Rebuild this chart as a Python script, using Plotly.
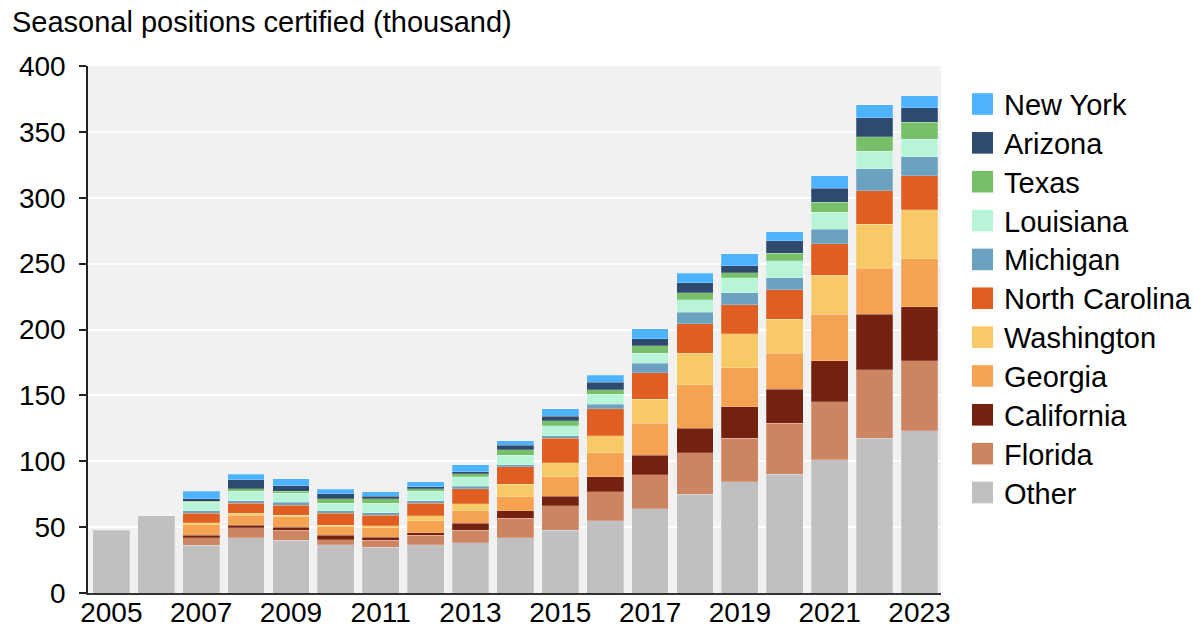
import plotly.graph_objects as go

years = list(range(2005, 2024))

other      = [47.8, 58.7, 36.4, 42.0, 40.2, 36.7, 34.7, 36.7, 38.2, 42.0, 47.6, 54.9, 64.0, 74.9, 84.3, 90.1, 101.0, 117.5, 123.0]
florida    = [None, None, 5.4, 7.4, 7.4, 3.8, 5.5, 7.1, 9.6, 14.7, 18.5, 22.0, 25.8, 31.6, 33.2, 38.8, 44.3, 51.8, 53.4]
california = [None, None, 2.0, 2.0, 2.2, 3.3, 2.1, 2.0, 5.1, 5.6, 7.3, 11.2, 14.8, 18.6, 24.0, 25.8, 31.1, 42.3, 40.8]
georgia    = [None, None, 8.1, 7.6, 8.1, 6.5, 7.3, 9.1, 9.4, 10.8, 14.7, 18.4, 24.3, 32.8, 29.6, 27.3, 35.2, 34.9, 36.4]
washington = [None, None, 1.3, 1.5, 1.2, 1.1, 1.5, 3.6, 5.3, 9.4, 10.8, 12.9, 18.2, 24.1, 25.6, 25.8, 29.6, 33.4, 37.2]
n_carolina = [None, None, 7.5, 7.6, 7.6, 9.1, 7.9, 9.6, 11.6, 13.4, 18.6, 20.3, 20.2, 22.3, 22.0, 22.3, 23.8, 25.6, 25.8]
michigan   = [None, None, 1.6, 1.8, 2.0, 1.8, 2.0, 1.8, 2.0, 1.5, 1.7, 3.6, 7.1, 8.8, 9.3, 9.3, 11.2, 16.7, 14.7]
louisiana  = [None, None, 6.6, 7.3, 7.1, 5.8, 7.1, 7.5, 7.1, 7.1, 7.6, 7.6, 7.6, 9.4, 11.2, 12.7, 12.9, 13.2, 13.2]
texas      = [None, None, 0.7, 1.8, 1.5, 3.5, 3.3, 1.8, 2.1, 4.1, 3.8, 3.5, 5.5, 5.5, 4.0, 5.8, 7.3, 10.8, 12.9]
arizona    = [None, None, 2.0, 7.0, 4.0, 3.6, 2.0, 1.5, 1.7, 3.5, 3.6, 5.6, 5.6, 7.4, 5.3, 9.4, 10.9, 14.7, 11.1]
new_york   = [None, None, 5.6, 4.1, 5.6, 3.5, 3.5, 3.6, 5.1, 3.5, 5.5, 5.3, 7.4, 7.3, 8.9, 7.0, 9.3, 9.6, 9.1]

# bottom-to-top stacking order
series_names = ["Other", "Florida", "California", "Georgia", "Washington", "North Carolina",
                "Michigan", "Louisiana", "Texas", "Arizona", "New York"]
series_values = [other, florida, california, georgia, washington, n_carolina,
                 michigan, louisiana, texas, arizona, new_york]
series_colors = ["#c0c0c0", "#cc8461", "#74220f", "#f5a352", "#f8c967", "#e05e22",
                 "#6ba2c0", "#b8f5d8", "#78bf6a", "#2e4a6e", "#4db3ff"]

x_ticks = list(range(2005, 2024, 2))
y_ticks = list(range(0, 401, 50))

FONT = "Liberation Sans, Arial, sans-serif"

fig = go.Figure()
for name, vals, col in zip(series_names, series_values, series_colors):
    fig.add_trace(go.Bar(x=years, y=vals, name=name, marker_color=col,
                         marker_line_width=0.6, marker_line_color="rgba(255,255,255,0.35)",
                         showlegend=False))

# plot area in pixels
L, R, T, B = 88, 941, 66, 593
W, H = 1194, 630

def px(xp):
    return (xp - L) / (R - L)

def py(yp):
    return (B - yp) / (B - T)

shapes = []
annotations = []
# manual legend (New York at top)
for i, (name, col) in enumerate(zip(reversed(series_names), reversed(series_colors))):
    cy = 104 + i * 38.85
    shapes.append(dict(type="rect", xref="paper", yref="paper",
                       x0=px(972), x1=px(993), y0=py(cy + 10.8), y1=py(cy - 10.8),
                       fillcolor=col, line_width=0))
    annotations.append(dict(text=name, xref="paper", yref="paper", x=px(1002), y=py(cy + 1),
                            xanchor="left", yanchor="middle", showarrow=False,
                            font=dict(size=29, color="black", family=FONT)))

annotations.append(dict(text="Seasonal positions certified (thousand)", xref="paper", yref="paper",
                        x=px(10), y=py(22), xanchor="left", yanchor="middle", showarrow=False,
                        font=dict(size=29, color="black", family=FONT)))

fig.update_layout(
    width=W, height=H,
    margin=dict(l=L, r=W - R, t=T, b=H - B, pad=0, autoexpand=False),
    barmode="stack", bargap=0.18,
    paper_bgcolor="white", plot_bgcolor="#f1f1f1",
    font=dict(family=FONT, size=28, color="black"),
    showlegend=False,
    shapes=shapes, annotations=annotations,
)
fig.update_xaxes(range=[2004.48, 2023.48], tickvals=x_ticks, ticktext=[str(v) for v in x_ticks],
                 showgrid=False, showline=True, linecolor="#333333", linewidth=2,
                 ticks="", tickfont=dict(size=28), zeroline=False, automargin=False,
                 ticklabelstandoff=-7)
fig.update_yaxes(range=[0, 400], tickvals=y_ticks, showgrid=True, gridcolor="white", gridwidth=2,
                 showline=True, linecolor="#222222", linewidth=1.5, ticks="outside", ticklen=7,
                 tickcolor="#222222", tickwidth=1.5, tickfont=dict(size=28), zeroline=False,
                 automargin=False, ticklabelstandoff=8)

fig.write_html("out.html", config={"displayModeBar": False},
               post_script="document.body.style.margin='0';document.body.style.overflow='hidden';")
